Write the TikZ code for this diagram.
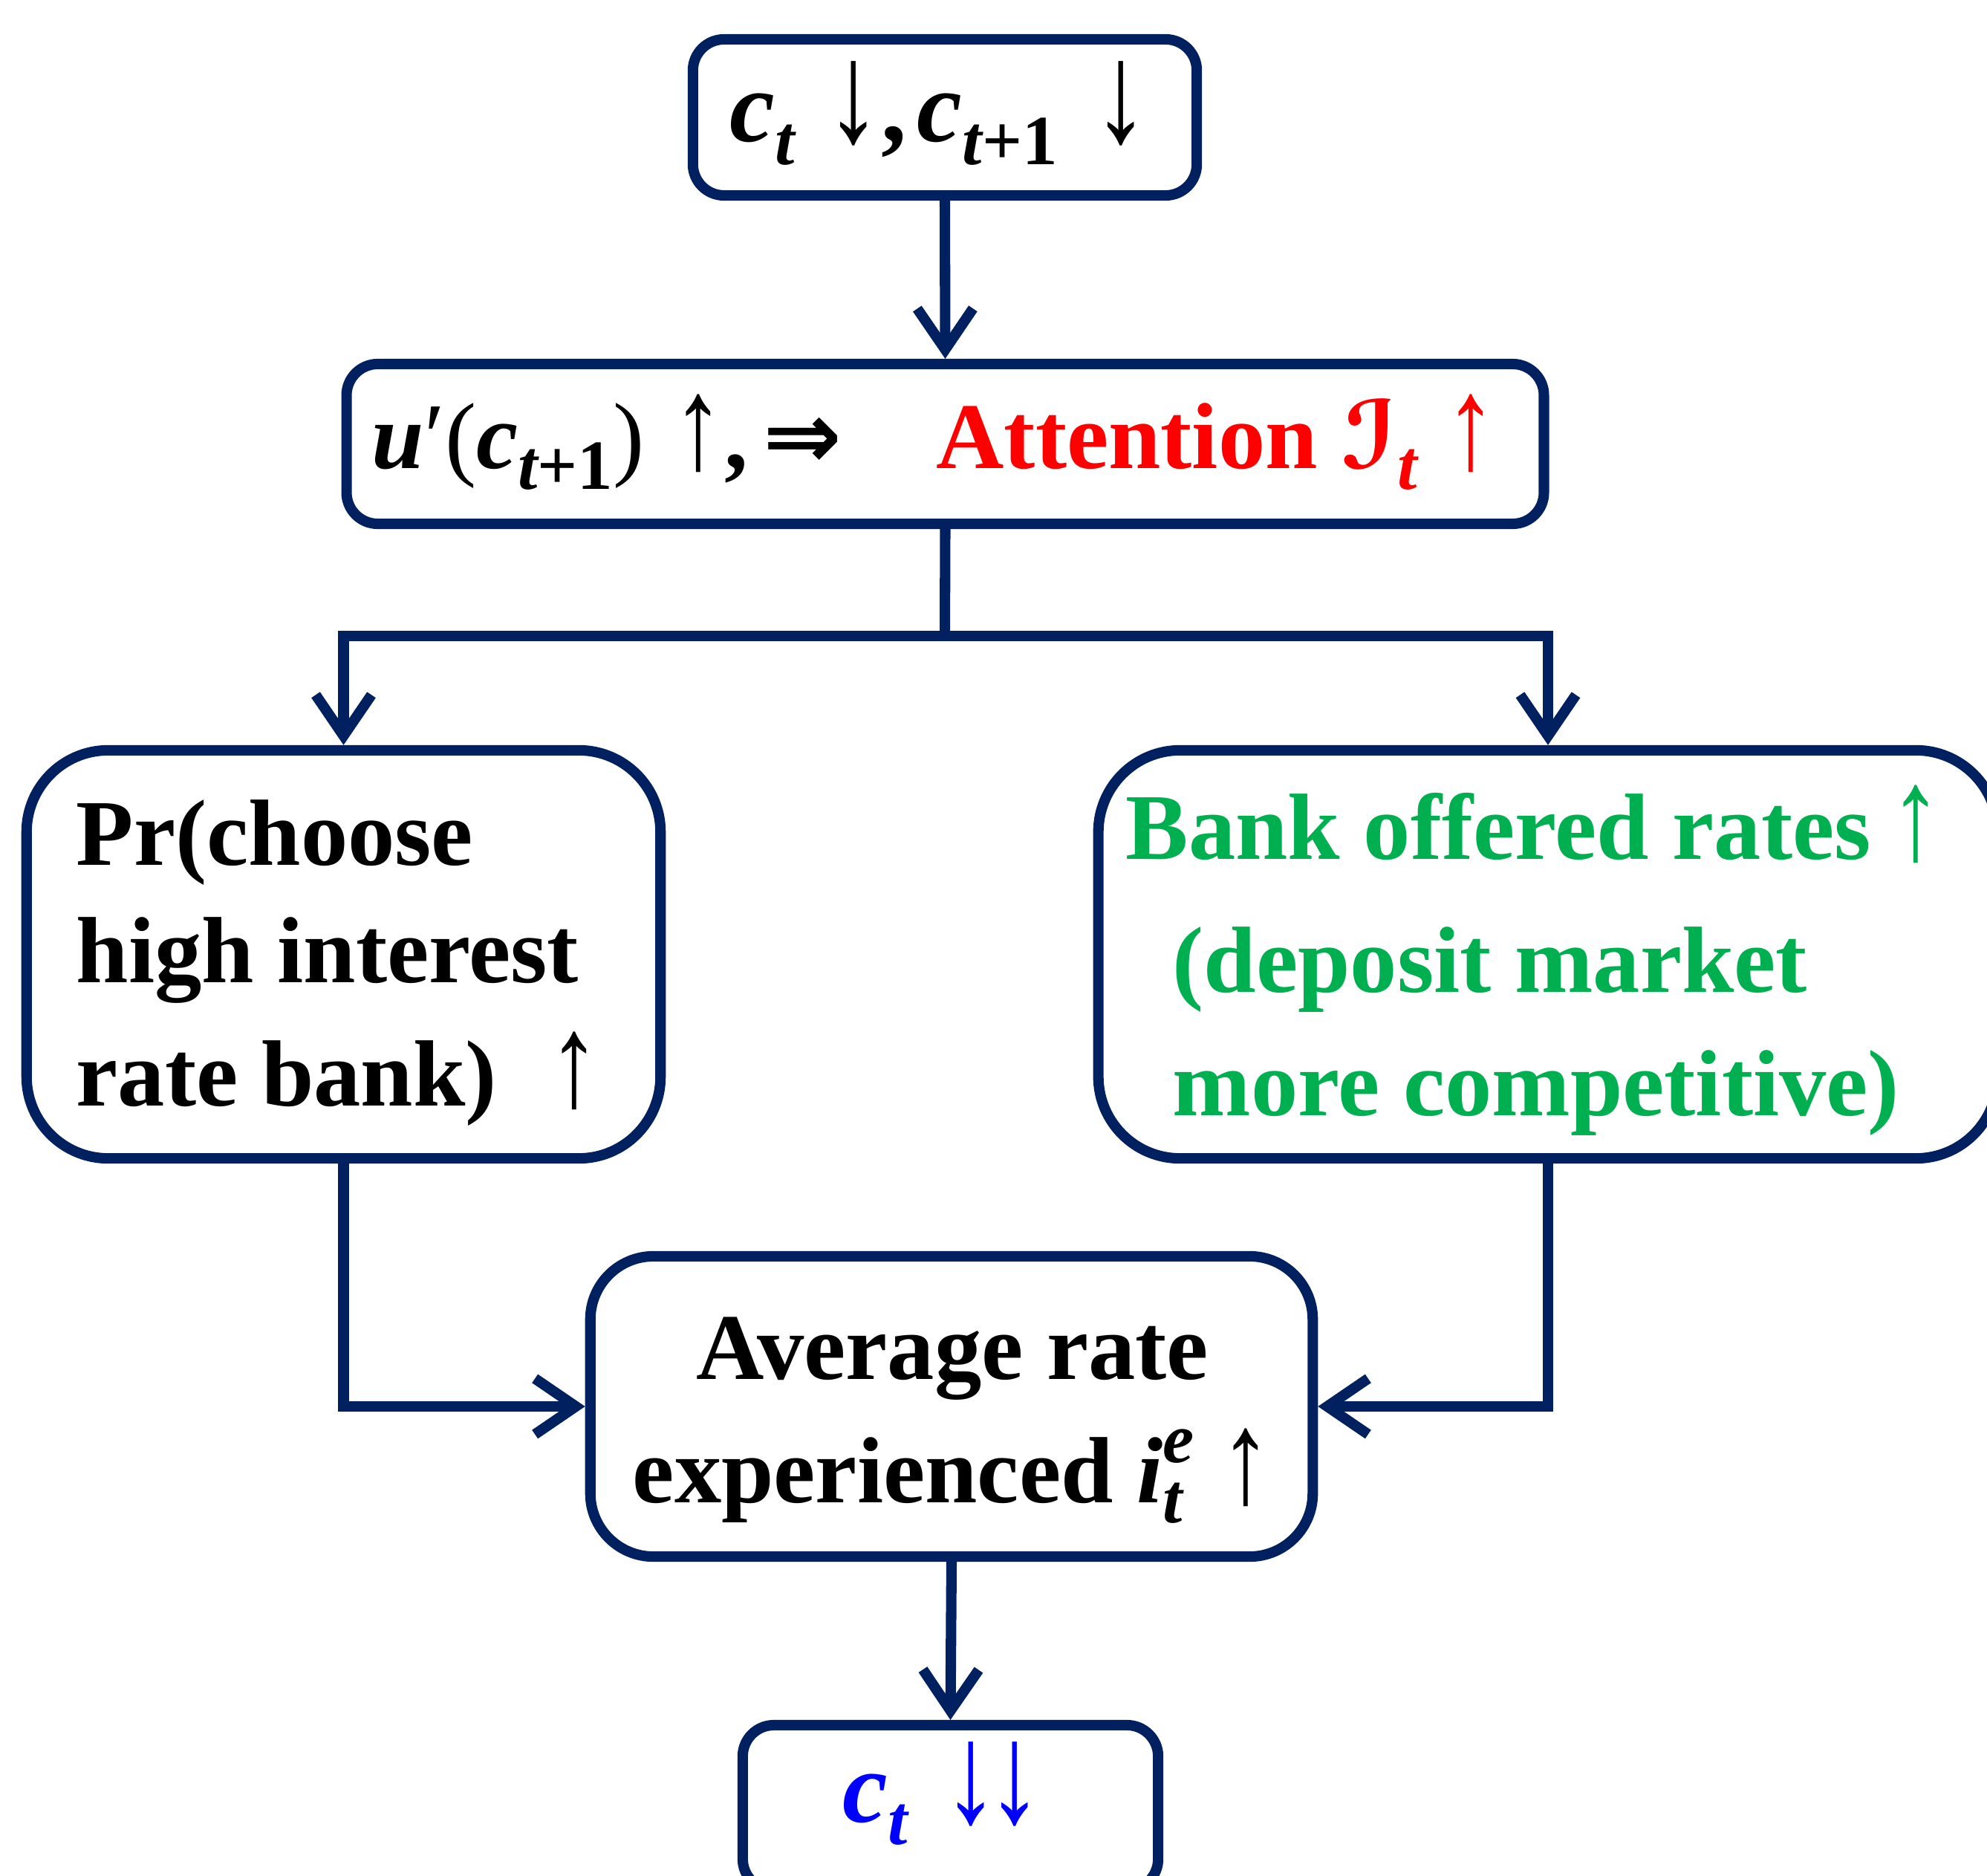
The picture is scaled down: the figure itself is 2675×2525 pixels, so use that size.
\documentclass[tikz,border=0pt]{standalone}
\usepackage{graphicx}
\usepackage{fontspec}
\setmainfont{Liberation Serif}
\newfontfamily\arw{Liberation Serif}
\newfontfamily\djs{DejaVu Sans}
\usetikzlibrary{arrows.meta}
\definecolor{navy}{HTML}{002060}
\definecolor{grn}{HTML}{00B050}
\definecolor{blu}{HTML}{0000FF}
\definecolor{rd}{HTML}{FF0000}
\newcommand\mysub[1]{\raisebox{-0.22em}{\fontsize{27}{27}\selectfont #1}}
\newcommand\mysup[1]{\raisebox{0.42em}{\fontsize{27}{27}\selectfont #1}}
\newcommand\mi[1]{{\bfseries\itshape #1}}
\newcommand\up{{\mdseries\upshape\arw\scalebox{1.1}[1.4]{↑}}}
\newcommand\dn{{\mdseries\upshape\arw\scalebox{1.1}[1.4]{↓}}}
\tikzset{
  box/.style={draw=navy, line width=4pt, rectangle, fill=white},
  arr/.style={draw=navy, line width=4pt, -{Straight Barb[length=0.55cm,width=0.75cm]}},
  conn/.style={draw=navy, line width=4pt},
  txt/.style={font=\fontsize{36}{40}\selectfont\bfseries, inner sep=0pt},
}
\begin{document}
\begin{tikzpicture}[x=0.01cm,y=-0.01cm]
\useasboundingbox (0,0) rectangle (2675,2525);
% boxes
\node[box, rounded corners=0.42cm, minimum width=6.78cm, minimum height=2.10cm] (b1) at (1272,158) {};
\node[box, rounded corners=0.42cm, minimum width=16.11cm, minimum height=2.15cm] (b2) at (1272.5,597.5) {};
\node[box, rounded corners=1.1cm, minimum width=8.53cm, minimum height=5.49cm] (b3) at (462.5,1284.5) {};
\node[box, rounded corners=1.1cm, minimum width=12.10cm, minimum height=5.49cm] (b4) at (2084,1284.5) {};
\node[box, rounded corners=0.85cm, minimum width=9.72cm, minimum height=4.04cm] (b5) at (1281,1893) {};
\node[box, rounded corners=0.42cm, minimum width=5.59cm, minimum height=2.22cm] (b6) at (1279.5,2433) {};
% connectors
\coordinate (split) at (1272,856);
\draw[arr] (b1.south) -- (b2.north);
\draw[conn] (b2.south) -- (split);
\draw[arr] (split) -| (b3.north);
\draw[arr] (split) -| (b4.north);
\draw[arr] (b3.south) |- (b5.west);
\draw[arr] (b4.south) |- (b5.east);
\draw[arr] (b5.south) -- (b6.north);
% texts
\node[txt, anchor=base] (t1) at (1265,191) {\fontsize{39}{40}\selectfont\mi{c}\mysub{\mi{t}}\hspace{0.3em}\dn,\hspace{0.1em}\mi{c}\mysub{\mi{t}+1}\hspace{0.35em}\dn};
\node[txt, anchor=base] (t2) at (1258,631) {\mi{u}{\mdseries\upshape ′(}\mi{c}\mysub{\mi{t}+1}{\mdseries\upshape )}\hspace{0.3em}\up,\,{\djs ⇒}\quad\textcolor{rd}{Attention \mi{{\djs ℐ}}\mysub{\mi{t}}\hspace{0.3em}\up}};
\node[txt, anchor=base west] (t3a) at (102,1165) {Pr(choose};
\node[txt, anchor=base west] (t3b) at (102,1322) {high interest};
\node[txt, anchor=base west] (t3c) at (102,1488) {rate bank)\hspace{0.55em}\up};
\node[txt, anchor=base west, text=grn] (t4a) at (1515,1157) {Bank offered rates\hspace{0.2em}\up};
\node[txt, anchor=base west, text=grn] (t4b) at (1578,1336) {(deposit market};
\node[txt, anchor=base west, text=grn] (t4c) at (1578,1501) {more competitive)};
\node[txt, anchor=base] (t5a) at (1282,1856) {Average rate};
\node[txt, anchor=base] (t5b) at (1282,2022) {experienced \mi{i}\rlap{\mysup{\mi{e}}}\mysub{\mi{t}}\hspace{0.4em}\up};
\node[txt, anchor=base, text=blu] (t6) at (1269,2452) {\fontsize{39}{40}\selectfont\mi{c}\mysub{\mi{t}}\hspace{0.35em}\dn\hspace{-0.12em}\dn};
\end{tikzpicture}
\end{document}
